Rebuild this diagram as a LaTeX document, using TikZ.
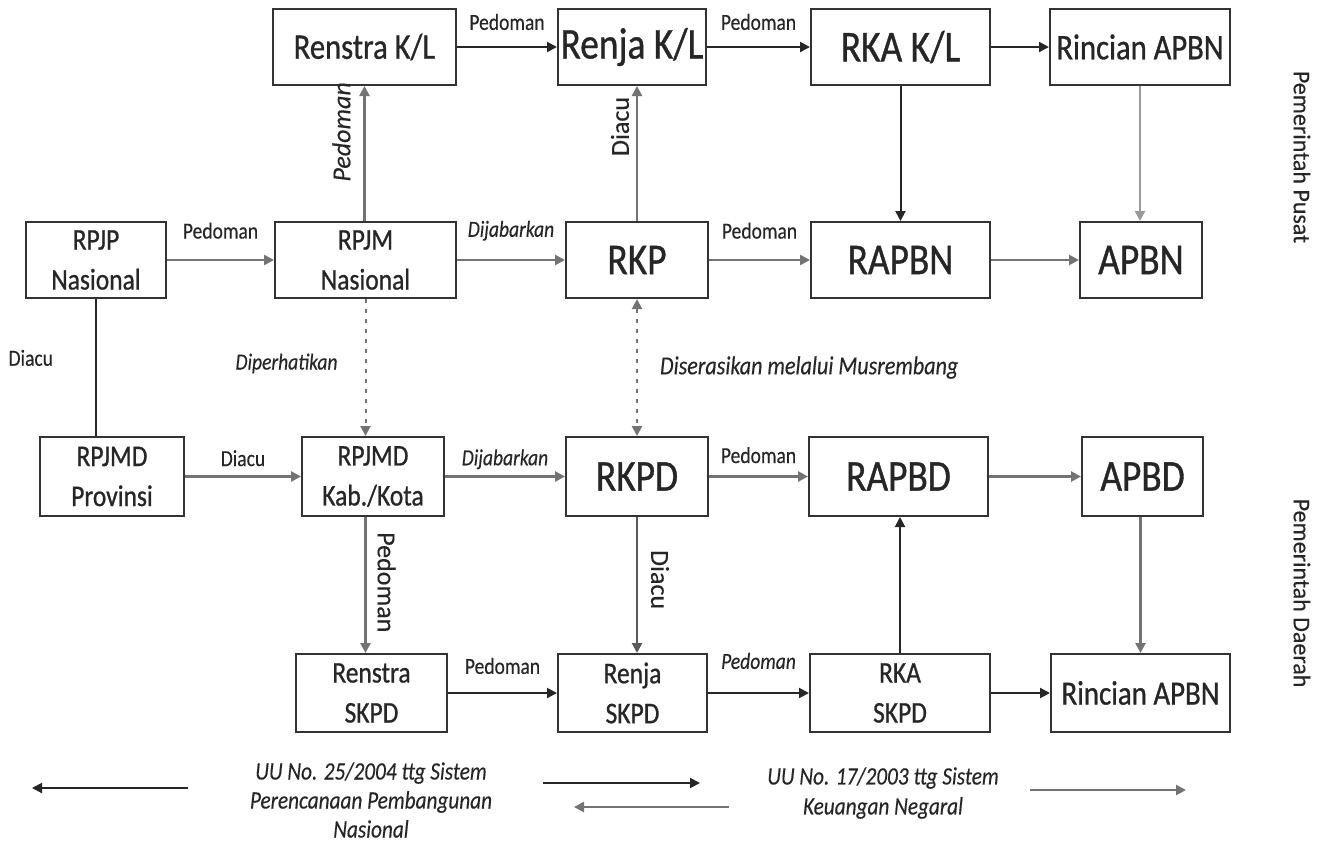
\documentclass[tikz,border=0pt]{standalone}
\usepackage{fontspec}
\setmainfont[FakeStretch=0.85, FakeBold=0.3]{Carlito}
\newfontfamily\upfont[FakeBold=0.3]{Carlito}
\newfontfamily\boxfont[FakeStretch=0.85, FakeBold=0.8]{Carlito}
\usetikzlibrary{arrows.meta}

\begin{document}
\begin{tikzpicture}[x=0.5pt, y=-0.5pt, >={Triangle[length=5pt,width=5pt]}]

\def\bigtxt{\boxfont\fontsize{22}{24}\selectfont}
\def\midtxt{\boxfont\fontsize{18}{20}\selectfont}
\def\smalltxt{\boxfont\fontsize{15}{20}\selectfont}
\def\lbltxt{\fontsize{11.5}{13}\selectfont}

\tikzset{
  box/.style={draw=black!80, line width=1pt, inner sep=0pt, align=center, text=black!85},
  boxsize/.style 2 args={minimum width=#1*0.5pt, minimum height=#2*0.5pt},
  darr/.style={->, draw=black!85, line width=1pt},
  garr/.style={->, draw=black!55, line width=1.3pt},
  dotarr/.style={draw=black!55, line width=1pt, dash pattern=on 2pt off 3pt},
  lbl/.style={inner sep=0pt, text=black!85, font=\lbltxt},
  rotlbl/.style={inner sep=0pt, text=black!85, font={\upfont\fontsize{13}{15}\selectfont}}
}

\useasboundingbox (0,0) rectangle (1320,841);

% ---------- kotak: Pemerintah Pusat ----------
\node[box, boxsize={183}{76}, font=\midtxt] (RenstraKL) at (364.5,47) {Renstra K/L};
\node[box, boxsize={148}{76}, font=\bigtxt] (RenjaKL) at (632,47) {Renja K/L};
\node[box, boxsize={179}{76}, font=\bigtxt] (RKAKL) at (900.5,47) {RKA K/L};
\node[box, boxsize={180}{76}, font=\midtxt] (RincianPusat) at (1140,47) {Rincian APBN};

\node[box, boxsize={140}{76}, font=\smalltxt] (RPJP) at (96,260) {RPJP\\Nasional};
\node[box, boxsize={181}{76}, font=\smalltxt] (RPJM) at (365.5,260) {RPJM\\Nasional};
\node[box, boxsize={142}{76}, font=\bigtxt] (RKP) at (637,260) {RKP};
\node[box, boxsize={179}{76}, font=\bigtxt] (RAPBN) at (900.5,260) {RAPBN};
\node[box, boxsize={122}{76}, font=\bigtxt] (APBN) at (1141,260) {APBN};

% ---------- kotak: Pemerintah Daerah ----------
\node[box, boxsize={144}{79}, font=\smalltxt] (RPJMDProv) at (112,476.5) {RPJMD\\Provinsi};
\node[box, boxsize={142}{79}, font=\smalltxt] (RPJMDKab) at (373,476.5) {RPJMD\\Kab./Kota};
\node[box, boxsize={142}{79}, font=\bigtxt] (RKPD) at (637,476.5) {RKPD};
\node[box, boxsize={179}{79}, font=\bigtxt] (RAPBD) at (898.5,476.5) {RAPBD};
\node[box, boxsize={121}{79}, font=\bigtxt] (APBD) at (1142.5,476.5) {APBD};

\node[box, boxsize={151}{78}, font=\smalltxt] (RenstraSKPD) at (371.5,693) {Renstra\\SKPD};
\node[box, boxsize={149}{78}, font=\smalltxt] (RenjaSKPD) at (632.5,693) {Renja\\SKPD};
\node[box, boxsize={180}{78}, font=\smalltxt] (RKASKPD) at (900,693) {RKA\\SKPD};
\node[box, boxsize={179}{78}, font={\boxfont\fontsize{17}{20}\selectfont}] (RincianDaerah) at (1140.5,693) {Rincian APBN};

% ---------- strzałki poziome ----------
\draw[darr] (RenstraKL) -- node[lbl, above=8pt] {Pedoman} (RenjaKL);
\draw[darr] (RenjaKL) -- node[lbl, above=8pt] {Pedoman} (RKAKL);
\draw[darr] (RKAKL) -- (RincianPusat);

\draw[garr] (RPJP) -- node[lbl, above=10pt] {Pedoman} (RPJM);
\draw[garr] (RPJM) -- node[lbl, above=9pt] {\itshape Dijabarkan} (RKP);
\draw[garr] (RKP) -- node[lbl, above=10pt] {Pedoman} (RAPBN);
\draw[garr] (RAPBN) -- (APBN);

\draw[garr] (RPJMDProv) -- node[lbl, above=4.5pt] {Diacu} (RPJMDKab);
\draw[garr] (RPJMDKab) -- node[lbl, above=3pt] {\itshape Dijabarkan} (RKPD);
\draw[garr] (RKPD) -- node[lbl, above=6pt] {Pedoman} (RAPBD);
\draw[garr] (RAPBD) -- (APBD);

\draw[darr] (RenstraSKPD) -- node[lbl, above=9pt] {Pedoman} (RenjaSKPD);
\draw[darr] (RenjaSKPD) -- node[lbl, above=11.5pt] {\itshape Pedoman} (RKASKPD);
\draw[darr] (RKASKPD) -- (RincianDaerah);

% ---------- strzałki pionowe ----------
\draw[garr] (RPJM.north -| RenstraKL) -- node[rotlbl, pos=0.66, rotate=90, anchor=south, outer sep=7pt] {\itshape Pedoman} (RenstraKL.south);
\draw[garr] (RKP.north) -- node[rotlbl, pos=0.70, rotate=90, anchor=south, outer sep=4pt] {Diacu} (RKP.north |- RenjaKL.south);
\draw[darr] (RKAKL) -- (RAPBN);
\draw[garr, draw=black!40] (RincianPusat.south) -- (RincianPusat.south |- APBN.north);

\draw[darr, -] (RPJP.south) -- node[lbl, pos=0.43, anchor=east, outer sep=21.5pt] {Diacu} (RPJP.south |- RPJMDProv.north);
\draw[dotarr, ->] (RPJM.south) -- node[lbl, pos=0.47, anchor=east, outer sep=14pt] {\itshape Diperhatikan} (RPJM.south |- RPJMDKab.north);
\draw[dotarr, <->] (RKP.south) -- node[lbl, pos=0.5, anchor=west, outer sep=11.5pt, font={\itshape\fontsize{13}{15}\selectfont}] {Diserasikan melalui Musrembang} (RKPD.north);

\draw[garr] (RPJMDKab.south -| RPJM) -- node[rotlbl, pos=0.48, rotate=-90, anchor=south, outer sep=6pt] {Pedoman} (RenstraSKPD.north -| RPJM);
\draw[garr, draw=black!65] (RKPD.south) -- node[rotlbl, pos=0.46, rotate=-90, anchor=south, outer sep=7pt] {Diacu} (RKPD.south |- RenjaSKPD.north);
\draw[garr] (APBD.south -| RincianDaerah) -- (RincianDaerah.north);
\draw[darr] (RKASKPD.north) -- (RKASKPD.north |- RAPBD.south);

% ---------- poziomy rządu ----------
\node[rotlbl, rotate=-90, font={\upfont\fontsize{12}{14}\selectfont}] (pusat) at (1302,157) {Pemerintah Pusat};
\node[rotlbl, rotate=-90, font={\upfont\fontsize{12}{14}\selectfont}] (daerah) at (1302,593) {Pemerintah Daerah};

% ---------- legenda: undang-undang ----------
\coordinate (L1a) at (188,788);
\coordinate (L1b) at (32,788);
\coordinate (L2a) at (543,783);
\coordinate (L2b) at (700,783);
\coordinate (L3a) at (729,807);
\coordinate (L3b) at (574,807);
\coordinate (L4a) at (1030,790);
\coordinate (L4b) at (1186,790);

\draw[darr] (L1a) -- (L1b);
\draw[darr] (L2a) -- (L2b);
\draw[garr] (L3a) -- (L3b);
\draw[garr] (L4a) -- (L4b);

\node[lbl, align=center, font={\itshape\fontsize{12.5}{14.5}\selectfont}] (uuPerencanaan) at (371,800)
  {UU No. 25/2004 ttg Sistem\\Perencanaan Pembangunan\\Nasional};
\node[lbl, align=center, font={\itshape\fontsize{12.5}{15}\selectfont}] (uuKeuangan) at (883,793)
  {UU No. 17/2003 ttg Sistem\\Keuangan Negaral};

\end{tikzpicture}
\end{document}
